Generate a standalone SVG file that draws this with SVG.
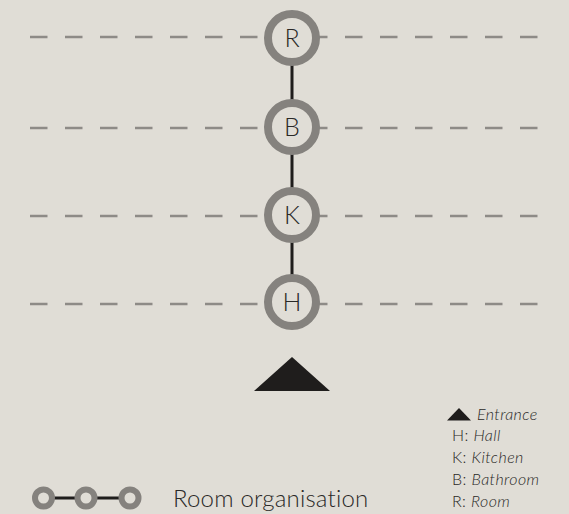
<svg xmlns="http://www.w3.org/2000/svg" width="569" height="514" viewBox="0 0 569 514">
<style>
.bg{fill:#e0ddd6}
.dash{stroke:#8e8b87;stroke-width:2.6;stroke-dasharray:17.5 17.5;fill:none}
.link{stroke:#1f1d1c;stroke-width:3;fill:none}
.ring{fill:#e0ddd6;stroke:#85827e;stroke-width:8}
.lbl{font-family:Lato,"Open Sans","Liberation Sans",sans-serif;font-weight:300;font-size:25px;fill:#2a2927;text-anchor:middle}
.leg{font-family:Lato,"Open Sans","Liberation Sans",sans-serif;font-weight:300;font-size:16px;letter-spacing:0.4px;fill:#2a2927}
.it{font-style:italic}
.big{font-family:Lato,"Open Sans","Liberation Sans",sans-serif;font-weight:300;font-size:24px;letter-spacing:0.2px;fill:#2a2927}
.tri{fill:#1f1d1c}
.sring{fill:#e0ddd6;stroke:#85827e;stroke-width:6}
</style>
<rect class="bg" x="0" y="0" width="569" height="514"/>
<g id="levels">
<line class="dash" x1="30" y1="37" x2="538" y2="37"/>
<line class="dash" x1="30" y1="128" x2="538" y2="128"/>
<line class="dash" x1="30" y1="216" x2="538" y2="216"/>
<line class="dash" x1="30" y1="304" x2="538" y2="304"/>
</g>
<g id="connectors">
<line class="link" x1="292" y1="37" x2="292" y2="304"/>
</g>
<g id="node-R"><circle class="ring" cx="292" cy="38" r="24"/><text class="lbl" x="292" y="47">R</text></g>
<g id="node-B"><circle class="ring" cx="292" cy="127" r="24"/><text class="lbl" x="292" y="136">B</text></g>
<g id="node-K"><circle class="ring" cx="292" cy="215" r="24"/><text class="lbl" x="292" y="224">K</text></g>
<g id="node-H"><circle class="ring" cx="292" cy="302" r="24"/><text class="lbl" x="292" y="311">H</text></g>
<g id="entrance"><polygon class="tri" points="254,391 292,357 330,391"/></g>
<g id="legend-key">
<polygon class="tri" points="447,420.5 459,408 471,420.5"/>
<text class="leg it" x="477" y="420">Entrance</text>
<text class="leg" x="452" y="441">H: <tspan class="it">Hall</tspan></text>
<text class="leg" x="452" y="463">K: <tspan class="it">Kitchen</tspan></text>
<text class="leg" x="452" y="485">B: <tspan class="it">Bathroom</tspan></text>
<text class="leg" x="452" y="507">R: <tspan class="it">Room</tspan></text>
</g>
<g id="legend-rooms">
<line class="link" x1="44" y1="498" x2="130" y2="498"/>
<circle class="sring" cx="43.5" cy="498" r="8.5"/>
<circle class="sring" cx="86" cy="498" r="8.5"/>
<circle class="sring" cx="130" cy="498" r="8.5"/>
<text class="big" x="173" y="507">Room organisation</text>
</g>
</svg>
